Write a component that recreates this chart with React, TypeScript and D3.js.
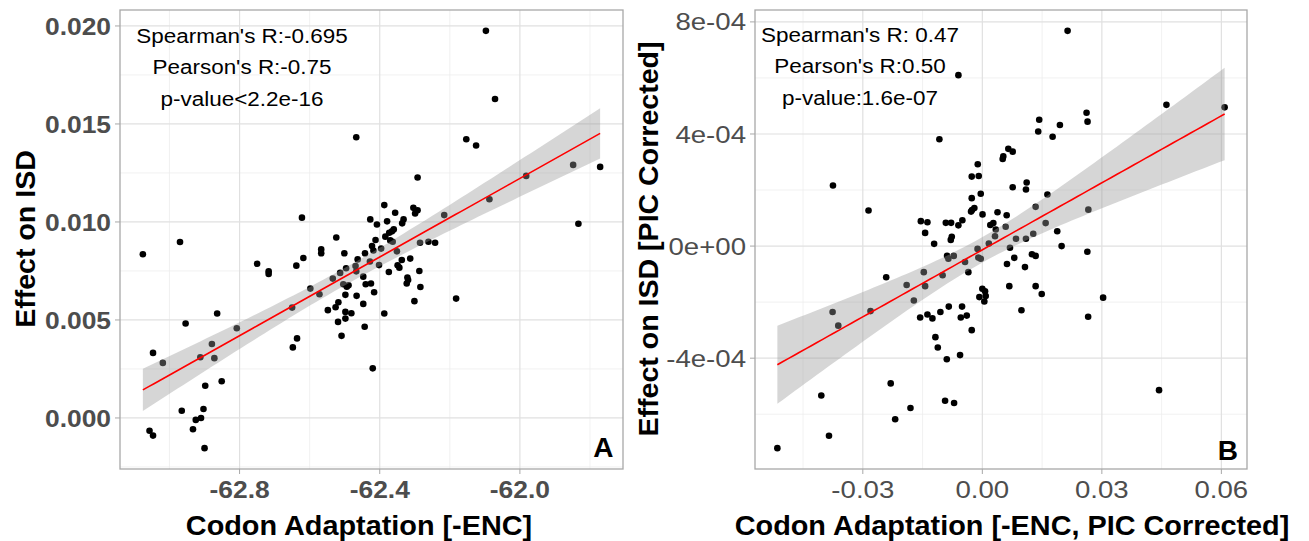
import React from "react";
import * as d3 from "d3";

// ---------- Panel A data: Codon Adaptation [-ENC] vs Effect on ISD ----------
const codonA = [
  -63.076, -62.970, -62.750, -62.717, -62.717, -62.864, -62.954, -62.808, -62.879, -63.047,
  -63.019, -62.912, -62.872, -62.898, -62.851, -62.965, -62.903, -62.925, -62.910, -62.933,
  -63.057, -63.047, -62.900, -62.638, -62.618, -62.598, -62.572, -62.548, -62.650, -62.648,
  -62.636, -62.622, -62.567, -62.567, -62.292, -62.387, -62.304, -62.292, -62.299, -62.356,
  -62.427, -62.379, -62.332, -62.336, -62.408, -62.360, -62.365, -62.373, -62.216, -62.384,
  -62.412, -62.370, -62.363, -62.524, -62.422, -62.418, -62.396, -62.351, -62.285, -62.261,
  -62.242, -62.501, -62.442, -62.463, -62.428, -62.337, -62.313, -62.402, -62.349, -62.344,
  -62.496, -62.469, -62.467, -62.513, -62.374, -62.287, -62.534, -62.447, -62.321, -62.319,
  -62.323, -62.504, -62.494, -62.489, -62.440, -62.425, -62.284, -62.416, -62.498, -62.466,
  -62.518, -62.526, -62.447, -62.301, -62.498, -62.481, -62.498, -62.387, -62.519, -62.443,
  -62.509, -62.420, -62.182, -62.097, -62.071, -62.467, -62.153, -62.125, -61.848, -61.771,
  -61.982, -62.087, -61.833,
];
const isdA = [
  0.00835, 0.00898, 0.00787, 0.00748, 0.00735, 0.00533, 0.00482, 0.00458, 0.00377, 0.00332,
  0.00281, 0.00310, 0.00305, 0.00164, 0.00187, 0.00037, 0.00046, -0.00010, 0.00000, -0.00058,
  -0.00065, -0.00090, -0.00154, 0.00777, 0.00816, 0.00660, 0.00631, 0.00550, 0.00563, 0.00360,
  0.00406, 0.01022, 0.00860, 0.00840, 0.01227, 0.01086, 0.01072, 0.01060, 0.01043, 0.01047,
  0.01013, 0.01003, 0.01013, 0.00993, 0.00987, 0.00962, 0.00952, 0.00945, 0.01035, 0.00925,
  0.00908, 0.00906, 0.00899, 0.00921, 0.00877, 0.00854, 0.00864, 0.00850, 0.00894, 0.00899,
  0.00894, 0.00840, 0.00840, 0.00809, 0.00798, 0.00806, 0.00813, 0.00780, 0.00779, 0.00767,
  0.00764, 0.00775, 0.00748, 0.00740, 0.00745, 0.00750, 0.00711, 0.00721, 0.00716, 0.00704,
  0.00686, 0.00682, 0.00670, 0.00677, 0.00682, 0.00686, 0.00668, 0.00641, 0.00628, 0.00623,
  0.00590, 0.00565, 0.00582, 0.00596, 0.00541, 0.00534, 0.00507, 0.00533, 0.00490, 0.00465,
  0.00419, 0.00253, 0.00609, 0.01975, 0.01627, 0.01432, 0.01422, 0.01390, 0.01291, 0.01281,
  0.01235, 0.01116, 0.00991,
];

// ---------- Panel B data: PIC corrected ----------
const codonB = [
  -0.00601, -0.01078, -0.03749, -0.02857, -0.01544, -0.01378, -0.01436, -0.01210, -0.00917, -0.00784,
  -0.00601, -0.00501, -0.00767, -0.00792, -0.00115, -0.00266, -0.00090, -0.00266, -0.00258, -0.00200,
  -0.00283, -0.00040, 0.02140, 0.04621, 0.06082, 0.02616, 0.02641, 0.01428, 0.01403, 0.01947,
  0.01764, 0.00652, 0.00762, 0.00526, 0.00511, 0.00762, 0.01113, 0.01095, 0.01634, 0.00005,
  0.00381, 0.00611, 0.01338, 0.02661, 0.00200, 0.00276, 0.00338, 0.00586, 0.01589, 0.01880,
  0.00845, 0.01095, 0.01278, 0.00318, 0.00163, 0.00694, 0.01990, -0.00120, -0.00100, -0.00040,
  0.01245, 0.01338, 0.02636, 0.00802, 0.00619, 0.01070, -0.00885, -0.00852, -0.00717, -0.00434,
  -0.00351, -0.02413, -0.01900, -0.01469, -0.01436, -0.00997, -0.01719, 0.00677, 0.01338, 0.01491,
  0.00000, 0.00068, -0.00075, 0.00085, 0.00050, 0.00982, 0.02656, 0.03032, -0.01561, -0.01378,
  -0.01253, -0.01053, -0.00842, -0.00509, -0.00541, -0.00391, -0.00266, -0.01178, -0.01118, -0.00892,
  -0.00559, -0.02300, -0.01804, -0.00935, -0.00709, -0.02188, -0.03759, -0.03616, -0.02807, -0.04042,
  -0.03849, -0.05145, 0.04436,
];
const isdB = [
  6.10e-4, 3.81e-4, 2.16e-4, 1.27e-4, 0.89e-4, 0.85e-4, 0.47e-4, 0.08e-4, 0.83e-4, 0.83e-4,
  0.74e-4, 0.92e-4, 0.33e-4, 0.22e-4, 2.92e-4, 2.48e-4, 2.50e-4, 1.71e-4, 1.29e-4, 1.36e-4,
  1.23e-4, 1.87e-4, 7.68e-4, 5.04e-4, 4.95e-4, 4.76e-4, 4.44e-4, 4.51e-4, 4.09e-4, 4.32e-4,
  3.90e-4, 3.47e-4, 3.37e-4, 3.20e-4, 3.11e-4, 2.10e-4, 2.27e-4, 2.02e-4, 1.84e-4, 1.13e-4,
  1.21e-4, 1.10e-4, 1.40e-4, 1.30e-4, 0.75e-4, 0.82e-4, 0.59e-4, 0.69e-4, 0.82e-4, 0.53e-4,
  0.26e-4, 0.26e-4, 0.44e-4, 0.35e-4, 0.09e-4, -0.06e-4, 0.00e-4, -0.10e-4, -0.41e-4, -0.45e-4,
  -0.29e-4, -0.35e-4, -0.20e-4, -0.42e-4, -0.64e-4, -0.75e-4, -0.35e-4, -0.45e-4, -0.35e-4, -0.57e-4,
  -0.93e-4, -1.11e-4, -1.39e-4, -0.93e-4, -1.43e-4, -1.04e-4, -1.94e-4, -1.43e-4, -1.43e-4, -1.71e-4,
  -1.52e-4, -1.61e-4, -1.82e-4, -1.78e-4, -1.98e-4, -2.29e-4, -2.52e-4, -1.84e-4, -2.55e-4, -2.44e-4,
  -2.58e-4, -2.35e-4, -2.16e-4, -2.16e-4, -2.55e-4, -2.48e-4, -3.00e-4, -3.25e-4, -3.62e-4, -4.04e-4,
  -3.89e-4, -4.90e-4, -5.78e-4, -5.52e-4, -5.60e-4, -6.18e-4, -2.35e-4, -2.84e-4, -2.32e-4, -5.33e-4,
  -6.77e-4, -7.21e-4, -5.14e-4,
];

// ---------- Axis ticks ----------
const xTicksA = [-62.8, -62.4, -62.0];
const xTickLabelsA = ["-62.8", "-62.4", "-62.0"];
const xMinorA = [-63.0, -62.6, -62.2, -61.8];
const yTicksA = [0, 0.005, 0.01, 0.015, 0.02];
const yTickLabelsA = ["0.000", "0.005", "0.010", "0.015", "0.020"];
const yMinorA = [-0.0025, 0.0025, 0.0075, 0.0125, 0.0175];

const xTicksB = [-0.03, 0, 0.03, 0.06];
const xTickLabelsB = ["-0.03", "0.00", "0.03", "0.06"];
const xMinorB = [-0.045, -0.015, 0.015, 0.045];
const yTicksB = [-4e-4, 0, 4e-4, 8e-4];
const yTickLabelsB = ["-4e-04", "0e+00", "4e-04", "8e-04"];
const yMinorB = [-6e-4, -2e-4, 2e-4, 6e-4];

const statsA = ["Spearman's R:-0.695", "Pearson's R:-0.75", "p-value<2.2e-16"];
const statsB = ["Spearman's R: 0.47", "Pearson's R:0.50", "p-value:1.6e-07"];

const FONT = "'Liberation Sans', Arial, Helvetica, sans-serif";

function T({ x, y, rot = 0, sx = 1, anchor = "start", size, weight = "normal", fill = "#000", children }: any) {
  return (
    <text
      transform={`translate(${x},${y}) rotate(${rot}) scale(${sx},1)`}
      textAnchor={anchor}
      fontSize={size}
      fontWeight={weight}
      fill={fill}
      fontFamily={FONT}
    >
      {children}
    </text>
  );
}

function expand(v: number[]) {
  const [a, b] = d3.extent(v) as [number, number];
  const p = (b - a) * 0.05;
  return [a - p, b + p];
}

function Panel(p: any) {
  const { xs, ys, box } = p;
  const x = d3.scaleLinear().domain(expand(xs)).range([box.x0, box.x1]);
  const y = d3.scaleLinear().domain(expand(ys)).range([box.y1, box.y0]);

  // linear model with 95% confidence band (as geom_smooth(method = "lm"))
  const n = xs.length;
  const mx = d3.mean(xs) as number;
  const my = d3.mean(ys) as number;
  const sxx = d3.sum(xs, (v: number) => (v - mx) ** 2);
  const sxy = d3.sum(xs.map((v: number, i: number) => (v - mx) * (ys[i] - my)));
  const slope = sxy / sxx;
  const icpt = my - slope * mx;
  const sse = d3.sum(xs.map((v: number, i: number) => (ys[i] - icpt - slope * v) ** 2));
  const s = Math.sqrt(sse / (n - 2));
  const tq = 1.982;
  const [xmin, xmax] = d3.extent(xs) as [number, number];
  const grid = d3.range(80).map((i) => xmin + (i * (xmax - xmin)) / 79);
  const fit = grid.map((g) => {
    const f = icpt + slope * g;
    const se = s * Math.sqrt(1 / n + (g - mx) ** 2 / sxx);
    return { x: g, f, lo: f - tq * se, hi: f + tq * se };
  });
  const area = d3.area<any>().x((d) => x(d.x)).y0((d) => y(d.lo)).y1((d) => y(d.hi));
  const line = d3.line<any>().x((d) => x(d.x)).y((d) => y(d.f));

  const gridMinor = "#ededed";
  const gridMajor = "#e0e0e0";

  return (
    <g>
      {p.xMinor.map((v: number) => (
        <line key={"xm" + v} x1={x(v)} x2={x(v)} y1={box.y0} y2={box.y1} stroke={gridMinor} strokeWidth={0.8} />
      ))}
      {p.yMinor.map((v: number) => (
        <line key={"ym" + v} y1={y(v)} y2={y(v)} x1={box.x0} x2={box.x1} stroke={gridMinor} strokeWidth={0.8} />
      ))}
      {p.xTicks.map((v: number) => (
        <line key={"xM" + v} x1={x(v)} x2={x(v)} y1={box.y0} y2={box.y1} stroke={gridMajor} strokeWidth={1.2} />
      ))}
      {p.yTicks.map((v: number) => (
        <line key={"yM" + v} y1={y(v)} y2={y(v)} x1={box.x0} x2={box.x1} stroke={gridMajor} strokeWidth={1.2} />
      ))}
      {xs.map((v: number, i: number) => (
        <circle key={"pt" + i} cx={x(v)} cy={y(ys[i])} r={3.3} fill="#000" />
      ))}
      <path d={area(fit) as string} fill="#999999" fillOpacity={0.4} />
      <path d={line(fit) as string} fill="none" stroke="#ff0000" strokeWidth={1.6} />
      <rect x={box.x0} y={box.y0} width={box.x1 - box.x0} height={box.y1 - box.y0} fill="none" stroke="#a8a8a8" strokeWidth={1.3} />
      {p.xTicks.map((v: number, i: number) => (
        <g key={"xt" + v}>
          <line x1={x(v)} x2={x(v)} y1={box.y1} y2={box.y1 + 5} stroke="#a8a8a8" strokeWidth={1} />
          <T x={x(v)} y={498} anchor="middle" size={24} sx={p.tickSx} weight={p.tickWeight} fill="#4d4d4d">
            {p.xLabels[i]}
          </T>
        </g>
      ))}
      {p.yTicks.map((v: number, i: number) => (
        <g key={"yt" + v}>
          <line x1={box.x0 - 5} x2={box.x0} y1={y(v)} y2={y(v)} stroke="#a8a8a8" strokeWidth={1} />
          <T x={box.x0 - 9} y={y(v) + 8.6} anchor="end" size={24} sx={p.tickSx} weight={p.tickWeight} fill="#4d4d4d">
            {p.yLabels[i]}
          </T>
        </g>
      ))}
      {p.stats.map((st: string, i: number) => (
        <T key={"st" + i} x={p.statsX} y={p.statsY + i * 31.5} anchor="middle" size={21} sx={1.07}>
          {st}
        </T>
      ))}
      <T x={p.letterX} y={p.letterY} anchor="end" size={28} weight="bold">
        {p.letter}
      </T>
      <T x={p.xTitleX} y={535} anchor="middle" size={28} sx={1.03} weight="bold">
        {p.xTitle}
      </T>
      <T x={p.yTitleX} y={239} rot={-90} anchor="middle" size={28} sx={1.02} weight="bold">
        {p.yTitle}
      </T>
    </g>
  );
}

export default function App() {
  return (
    <svg
      width={1309}
      height={541}
      viewBox="0 0 1309 541"
      style={{ position: "absolute", left: 0, top: 0, background: "#fff" }}
    >
      <rect x={0} y={0} width={1309} height={541} fill="#fff" />
      <Panel
        xs={codonA}
        ys={isdA}
        box={{ x0: 120, x1: 623, y0: 10, y1: 469 }}
        xTicks={xTicksA}
        xLabels={xTickLabelsA}
        xMinor={xMinorA}
        yTicks={yTicksA}
        yLabels={yTickLabelsA}
        yMinor={yMinorA}
        tickWeight="bold"
        tickSx={1.1}
        stats={statsA}
        statsX={242}
        statsY={42.5}
        letter="A"
        letterX={613.5}
        letterY={456.7}
        xTitle="Codon Adaptation [-ENC]"
        xTitleX={359}
        yTitle="Effect on ISD"
        yTitleX={35}
      />
      <Panel
        xs={codonB}
        ys={isdB}
        box={{ x0: 755, x1: 1247, y0: 10, y1: 469 }}
        xTicks={xTicksB}
        xLabels={xTickLabelsB}
        xMinor={xMinorB}
        yTicks={yTicksB}
        yLabels={yTickLabelsB}
        yMinor={yMinorB}
        tickWeight="normal"
        tickSx={1.15}
        stats={statsB}
        statsX={860}
        statsY={41.7}
        letter="B"
        letterX={1238}
        letterY={460}
        xTitle="Codon Adaptation [-ENC, PIC Corrected]"
        xTitleX={1012}
        yTitle="Effect on ISD [PIC Corrected]"
        yTitleX={658}
      />
    </svg>
  );
}
